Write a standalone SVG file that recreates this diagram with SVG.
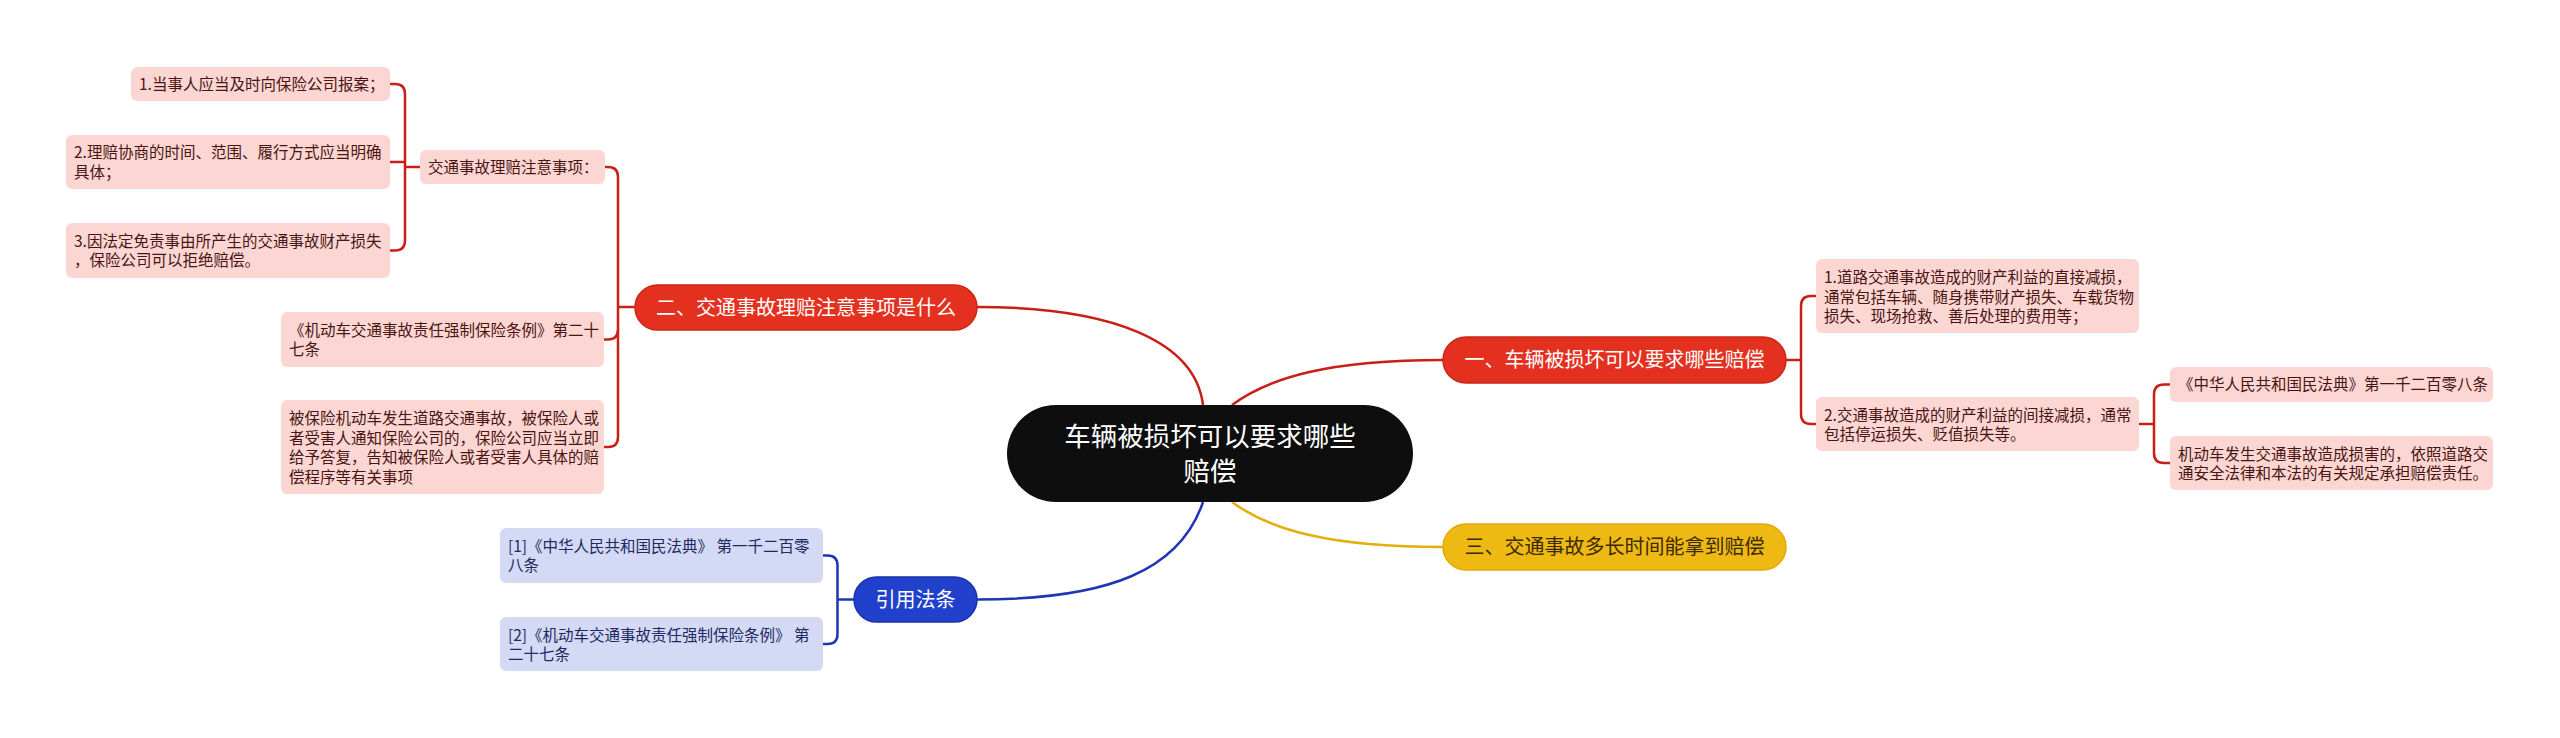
<svg xmlns="http://www.w3.org/2000/svg" width="2560" height="738" viewBox="0 0 2560 738">
<style>
text{font-family:"Noto Sans CJK SC","Noto Sans",sans-serif}
.pk{fill:#fcd6d3}
.bl{fill:#d4d9f6}
.lt{font-size:15.5px;fill:#4a1410}
.bt{font-size:15.5px;fill:#202a60}
.pill{font-size:20px;text-anchor:middle}
.red{fill:#e4301e;stroke:#cc2616;stroke-width:1.5}
.yel{fill:#efb913;stroke:#e0aa08;stroke-width:1.5}
.blu{fill:#2140cc;stroke:#1a32a8;stroke-width:1.5}
.cr{fill:none;stroke:#c81f16;stroke-width:2.5}
.cy{fill:none;stroke:#e4ad10;stroke-width:2.5}
.cb{fill:none;stroke:#1e36b4;stroke-width:2.5}
</style>
<rect width="2560" height="738" fill="#ffffff"/>
<g id="connectors">
<path class="cr" d="M1203 405 C1195 340 1110 307 977 307"/>
<path class="cr" d="M1232 405 C1270 377 1330 360 1443 360"/>
<path class="cy" d="M1232 502 C1270 530 1330 547 1443 547"/>
<path class="cb" d="M1203 502 C1180 570 1110 599.5 977 599.5"/>
<path class="cr" d="M635 307 H618"/>
<path class="cr" d="M605 167 H608 Q618 167 618 177 V437 Q618 447 608 447 H604"/>
<path class="cr" d="M618 329.5 Q618 339.5 608 339.5 H604"/>
<path class="cr" d="M390 84 H395 Q405 84 405 94 V240.5 Q405 250.5 395 250.5 H390"/>
<path class="cr" d="M390 162 H405"/>
<path class="cr" d="M405 167 H420"/>
<path class="cb" d="M823 555.5 H827.5 Q837.5 555.5 837.5 565.5 V634 Q837.5 644 827.5 644 H823"/>
<path class="cb" d="M837.5 599.5 H854"/>
<path class="cr" d="M1786 360 H1801"/>
<path class="cr" d="M1816 296 H1811 Q1801 296 1801 306 V414 Q1801 424 1811 424 H1816"/>
<path class="cr" d="M2139 424 H2154"/>
<path class="cr" d="M2170 384.5 H2164 Q2154 384.5 2154 394.5 V453 Q2154 463 2164 463 H2170"/>
</g>
<g id="center">
<rect x="1007" y="405" width="406" height="97" rx="48.5" fill="#0e0e0e"/>
<text x="1210" y="446" font-size="26.5" fill="#ffffff" text-anchor="middle">车辆被损坏可以要求哪些</text>
<text x="1210" y="481" font-size="26.5" fill="#ffffff" text-anchor="middle">赔偿</text>
</g>
<g id="branch2">
<rect class="red" x="635" y="285" width="342" height="45" rx="22.5"/>
<text class="pill" x="806" y="314.5" fill="#ffffff">二、交通事故理赔注意事项是什么</text>
</g>
<g id="b2-notes">
<rect class="pk" x="420" y="150" width="185" height="34" rx="6"/>
<text class="lt" x="428" y="172.5">交通事故理赔注意事项：</text>
</g>
<g id="b2-n1">
<rect class="pk" x="131" y="67" width="259" height="34" rx="6"/>
<text class="lt" x="139" y="89.5">1.当事人应当及时向保险公司报案；</text>
</g>
<g id="b2-n2">
<rect class="pk" x="66" y="135" width="324" height="54" rx="6"/>
<text class="lt" x="74" y="158">2.理赔协商的时间、范围、履行方式应当明确</text>
<text class="lt" x="74" y="177.5">具体；</text>
</g>
<g id="b2-n3">
<rect class="pk" x="66" y="223" width="324" height="55" rx="6"/>
<text class="lt" x="74" y="246.5">3.因法定免责事由所产生的交通事故财产损失</text>
<text class="lt" x="74" y="266">，保险公司可以拒绝赔偿。</text>
</g>
<g id="b2-law">
<rect class="pk" x="281" y="312" width="323" height="55" rx="6"/>
<text class="lt" x="289" y="335.5">《机动车交通事故责任强制保险条例》第二十</text>
<text class="lt" x="289" y="355">七条</text>
</g>
<g id="b2-text">
<rect class="pk" x="281" y="400" width="323" height="94" rx="6"/>
<text class="lt" x="289" y="424">被保险机动车发生道路交通事故，被保险人或</text>
<text class="lt" x="289" y="443.5">者受害人通知保险公司的，保险公司应当立即</text>
<text class="lt" x="289" y="463">给予答复，告知被保险人或者受害人具体的赔</text>
<text class="lt" x="289" y="482.5">偿程序等有关事项</text>
</g>
<g id="refs">
<rect class="blu" x="854" y="577" width="123" height="45" rx="22.5"/>
<text class="pill" x="915.5" y="606.5" fill="#ffffff">引用法条</text>
</g>
<g id="ref1">
<rect class="bl" x="500" y="528" width="323" height="55" rx="6"/>
<text class="bt" x="508" y="551.5">[1]《中华人民共和国民法典》 第一千二百零</text>
<text class="bt" x="508" y="571">八条</text>
</g>
<g id="ref2">
<rect class="bl" x="500" y="617" width="323" height="54" rx="6"/>
<text class="bt" x="508" y="640.5">[2]《机动车交通事故责任强制保险条例》 第</text>
<text class="bt" x="508" y="660">二十七条</text>
</g>
<g id="branch1">
<rect class="red" x="1443" y="337" width="343" height="46" rx="23"/>
<text class="pill" x="1614.5" y="367" fill="#ffffff">一、车辆被损坏可以要求哪些赔偿</text>
</g>
<g id="b1-n1">
<rect class="pk" x="1816" y="259" width="323" height="74" rx="6"/>
<text class="lt" x="1824" y="283">1.道路交通事故造成的财产利益的直接减损，</text>
<text class="lt" x="1824" y="302.5">通常包括车辆、随身携带财产损失、车载货物</text>
<text class="lt" x="1824" y="322">损失、现场抢救、善后处理的费用等；</text>
</g>
<g id="b1-n2">
<rect class="pk" x="1816" y="397" width="323" height="54" rx="6"/>
<text class="lt" x="1824" y="420.5">2.交通事故造成的财产利益的间接减损，通常</text>
<text class="lt" x="1824" y="440">包括停运损失、贬值损失等。</text>
</g>
<g id="b1-law">
<rect class="pk" x="2170" y="367" width="323" height="35" rx="6"/>
<text class="lt" x="2178" y="390">《中华人民共和国民法典》第一千二百零八条</text>
</g>
<g id="b1-law-text">
<rect class="pk" x="2170" y="436" width="323" height="54" rx="6"/>
<text class="lt" x="2178" y="459.5">机动车发生交通事故造成损害的，依照道路交</text>
<text class="lt" x="2178" y="479">通安全法律和本法的有关规定承担赔偿责任。</text>
</g>
<g id="branch3">
<rect class="yel" x="1443" y="524" width="343" height="46" rx="23"/>
<text class="pill" x="1614.5" y="554" fill="#3a2a05">三、交通事故多长时间能拿到赔偿</text>
</g>
</svg>
